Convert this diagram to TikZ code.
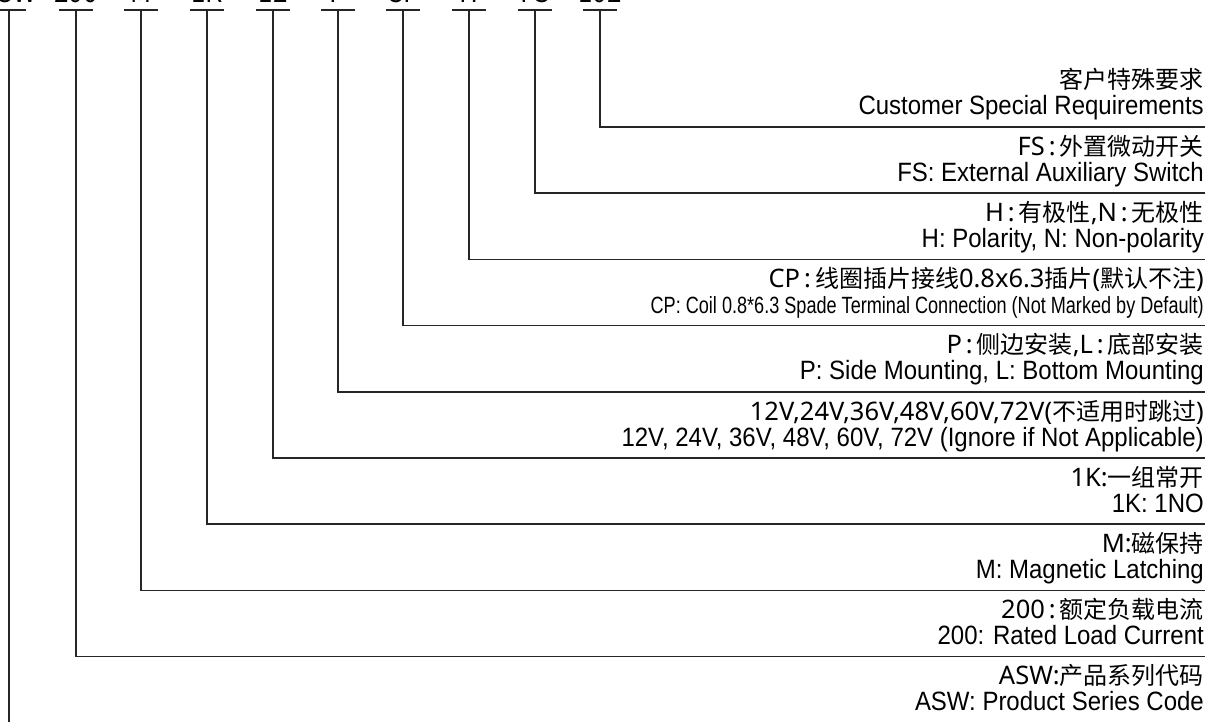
\documentclass[tikz,border=0pt]{standalone}
\usepackage{fontspec}
\setmainfont{Liberation Sans}
\newfontfamily\cjk{Noto Sans CJK SC}
\newfontfamily\latin{Noto Sans}
\newfontfamily\enfont{Liberation Sans}[FakeStretch=0.905]
\newfontfamily\narrowfont{Liberation Sans}[FakeStretch=0.77]
\newcommand\zh[1]{{\cjk\fontsize{24}{26}\selectfont #1}}
\newcommand\wcolon{\kern4pt:\kern4pt}
\tikzset{
  wire/.style={line width=1.6pt, black!85},
  codepart/.style={anchor=base, inner sep=0pt, font=\cjk\fontsize{26}{28}\selectfont},
  zhlabel/.style={anchor=base east, inner sep=0pt, font=\latin\fontsize{25.5}{26}\selectfont},
  enlabel/.style={anchor=base east, inner sep=0pt, font=\enfont\fontsize{26.5}{28}\selectfont},
}
\begin{document}
\begin{tikzpicture}[x=1pt,y=-1pt]
\useasboundingbox (0,0) rectangle (1216,722);

% code letters, cut by the top edge
\node[codepart] (cASW) at (9,3) {ASW};
\node[codepart] (cCur) at (76,3) {200};
\node[codepart] (cMag) at (141,3) {M};
\node[codepart] (cCon) at (207,3) {1K};
\node[codepart] (cVol) at (273,3) {12};
\node[codepart] (cMnt) at (338,3) {P};
\node[codepart] (cCoil) at (403,3) {CP};
\node[codepart] (cPol) at (469,3) {H};
\node[codepart] (cSw) at (535,3) {FS};
\node[codepart] (cCus) at (600,3) {102};

% tops of the leads
\coordinate (tASW) at (9,10);
\coordinate (tCur) at (76,10);
\coordinate (tMag) at (141,10);
\coordinate (tCon) at (207,10);
\coordinate (tVol) at (273,10);
\coordinate (tMnt) at (338,10);
\coordinate (tCoil) at (403,10);
\coordinate (tPol) at (469,10);
\coordinate (tSw) at (535,10);
\coordinate (tCus) at (600,10);

% right ends of the leads
\coordinate (eCus) at (1205,127);
\coordinate (eSw) at (1205,193.2);
\coordinate (ePol) at (1205,259.4);
\coordinate (eCoil) at (1205,325.6);
\coordinate (eMnt) at (1205,391.8);
\coordinate (eVol) at (1205,458);
\coordinate (eCon) at (1205,524.2);
\coordinate (eMag) at (1205,590.4);
\coordinate (eCur) at (1205,656.6);
\coordinate (eASW) at (1205,722.8);

\draw[wire] ([xshift=-17pt]tASW) -- ([xshift=17pt]tASW);
\draw[wire] ([xshift=-17pt]tCur) -- ([xshift=17pt]tCur);
\draw[wire] ([xshift=-17pt]tMag) -- ([xshift=17pt]tMag);
\draw[wire] ([xshift=-17pt]tCon) -- ([xshift=17pt]tCon);
\draw[wire] ([xshift=-17pt]tVol) -- ([xshift=17pt]tVol);
\draw[wire] ([xshift=-17pt]tMnt) -- ([xshift=17pt]tMnt);
\draw[wire] ([xshift=-17pt]tCoil) -- ([xshift=17pt]tCoil);
\draw[wire] ([xshift=-17pt]tPol) -- ([xshift=17pt]tPol);
\draw[wire] ([xshift=-17pt]tSw) -- ([xshift=17pt]tSw);
\draw[wire] ([xshift=-17pt]tCus) -- ([xshift=17pt]tCus);

\draw[wire] (tCus) |- (eCus);
\draw[wire] (tSw) |- (eSw);
\draw[wire] (tPol) |- (ePol);
\draw[wire] (tCoil) |- (eCoil);
\draw[wire] (tMnt) |- (eMnt);
\draw[wire] (tVol) |- (eVol);
\draw[wire] (tCon) |- (eCon);
\draw[wire] (tMag) |- (eMag);
\draw[wire] (tCur) |- (eCur);
\draw[wire] (tASW) |- (eASW);

% labels
\node[zhlabel] (zCus) at (1204,89) {\zh{客户特殊要求}};
\node[enlabel] (nCus) at (1204,115) {Customer Special Requirements};
\node[zhlabel] (zSw) at (1204,155.2) {FS\wcolon\zh{外置微动开关}};
\node[enlabel] (nSw) at (1204,181.2) {FS: External Auxiliary Switch};
\node[zhlabel] (zPol) at (1204,221.4) {H\wcolon\zh{有极性},N\wcolon\zh{无极性}};
\node[enlabel] (nPol) at (1204,247.4) {H: Polarity, N: Non-polarity};
\node[zhlabel] (zCoil) at (1204,287.6) {CP\wcolon\zh{线圈插片接线}0.8x6.3\zh{插片}(\zh{默认不注})};
\node[enlabel, font=\narrowfont\fontsize{23.5}{26}\selectfont] (nCoil) at (1204,313.1) {CP: Coil 0.8*6.3 Spade Terminal Connection (Not Marked by Default)};
\node[zhlabel] (zMnt) at (1204,353.8) {P\wcolon\zh{侧边安装},L\wcolon\zh{底部安装}};
\node[enlabel] (nMnt) at (1204,379.8) {P: Side Mounting, L: Bottom Mounting};
\node[zhlabel] (zVol) at (1204,420) {12V,24V,36V,48V,60V,72V(\zh{不适用时跳过})};
\node[enlabel] (nVol) at (1204,446) {12V, 24V, 36V, 48V, 60V, 72V (Ignore if Not Applicable)};
\node[zhlabel] (zCon) at (1204,486.2) {1K:\zh{一组常开}};
\node[enlabel] (nCon) at (1204,512.2) {1K: 1NO};
\node[zhlabel] (zMag) at (1204,552.4) {M:\zh{磁保持}};
\node[enlabel] (nMag) at (1204,578.4) {M: Magnetic Latching};
\node[zhlabel] (zCur) at (1204,618.6) {200\wcolon\zh{额定负载电流}};
\node[enlabel] (nCur) at (1204,644.6) {200: Rated Load Current};
\node[zhlabel] (zASW) at (1204,684.8) {ASW:\zh{产品系列代码}};
\node[enlabel] (nASW) at (1204,710.8) {ASW: Product Series Code};
\end{tikzpicture}
\end{document}
